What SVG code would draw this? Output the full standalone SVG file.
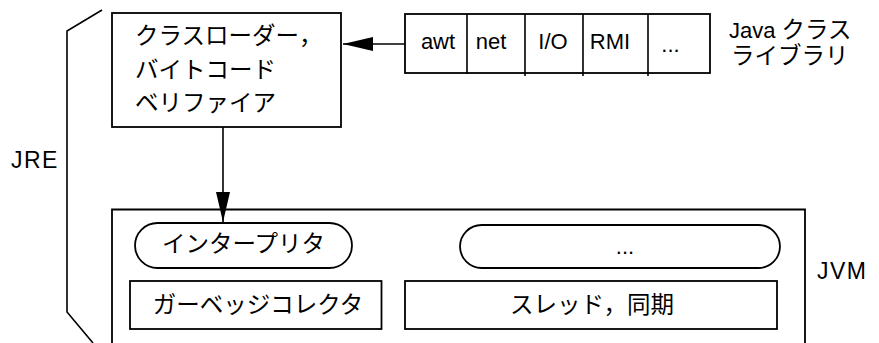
<svg xmlns="http://www.w3.org/2000/svg" width="879" height="343" viewBox="0 0 879 343">
<defs>
<style>
.box{fill:#fff;stroke:#000;stroke-width:1.8}
.ln{fill:none;stroke:#000;stroke-width:1.6}
.t{font-family:"Liberation Sans","Noto Sans CJK JP",sans-serif;font-size:22px;fill:#000}
.j{font-size:23.5px}
.big{font-size:23px;letter-spacing:1.5px}
.m{text-anchor:middle}
</style>
<marker id="ah" markerWidth="30" markerHeight="14" refX="30" refY="7" orient="auto" markerUnits="userSpaceOnUse">
<path d="M0,0 L30,7 L0,14 Z" fill="#000"/>
</marker>
</defs>
<rect width="879" height="343" fill="#fff"/>
<g id="jre">
<path class="ln" d="M102,10 L67,31 L67,312 L93,343"/>
<text class="t big" x="11" y="168">JRE</text>
</g>
<g id="loader">
<rect class="box" x="112" y="13" width="229" height="114"/>
<text class="t j" x="135" y="44">クラスローダー，</text>
<text class="t j" x="135" y="77.5">バイトコード</text>
<text class="t j" x="135" y="111">ベリファイア</text>
</g>
<g id="library">
<rect class="box" x="405" y="14" width="305" height="59"/>
<path class="ln" d="M467,14 V74 M525,14 V76 M583,14 V76 M648,14 V76"/>
<text class="t m" x="438" y="49">awt</text>
<text class="t m" x="491" y="49">net</text>
<text class="t m" x="553" y="49">I/O</text>
<text class="t m" x="610" y="49">RMI</text>
<text class="t m" x="670.5" y="51.5">...</text>
<text class="t" x="729" y="38">Java <tspan class="j">クラス</tspan></text>
<text class="t j" x="731" y="63.5">ライブラリ</text>
</g>
<g id="jvm">
<path class="box" d="M112,343 V209.5 H805 V343" fill="#fff"/>
<text class="t big" x="817" y="279">JVM</text>
</g>
<g id="interpreter">
<rect class="box" x="135" y="223" width="217" height="45" rx="22.5"/>
<text class="t j m" x="243.5" y="252">インタープリタ</text>
</g>
<g id="other">
<rect class="box" x="460" y="225" width="320" height="43" rx="21.5"/>
<text class="t m" x="625" y="254">...</text>
</g>
<g id="gc">
<rect class="box" x="130" y="281" width="251.5" height="48"/>
<text class="t j m" x="258" y="313">ガーベッジコレクタ</text>
</g>
<g id="thread">
<rect class="box" x="405" y="281" width="372" height="48"/>
<text class="t j m" x="592" y="313">スレッド，同期</text>
</g>
<g id="connectors">
<line class="ln" x1="405" y1="44" x2="343" y2="44" marker-end="url(#ah)"/>
<line class="ln" x1="223" y1="127" x2="223" y2="222" marker-end="url(#ah)"/>
</g>
</svg>
